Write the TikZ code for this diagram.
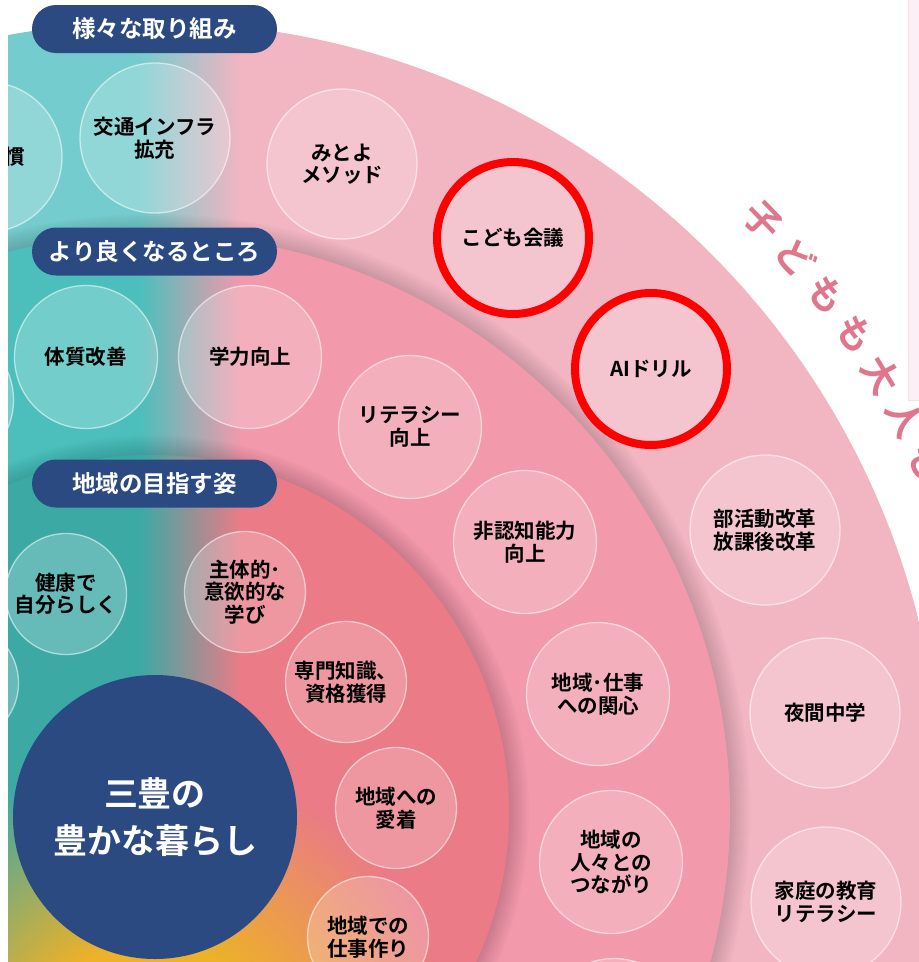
\documentclass[tikz,border=0pt]{standalone}
\usepackage{fontspec}
\setmainfont{Noto Sans CJK JP}[BoldFont={* Bold}]
\usetikzlibrary{fadings}
\definecolor{navy}{HTML}{2C4A82}
\definecolor{tealA}{HTML}{74CCCE}
\definecolor{tealB}{HTML}{4CBFBC}
\definecolor{tealC}{HTML}{3CA9A5}
\definecolor{pinkA}{HTML}{F2B5C2}
\definecolor{pinkB}{HTML}{F299AB}
\definecolor{pinkC}{HTML}{EA7B87}
\definecolor{midA}{HTML}{CCC2CA}
\definecolor{midB}{HTML}{B3A8B0}
\definecolor{midC}{HTML}{AC959A}
\definecolor{ylw}{HTML}{EDB12A}
\definecolor{arcpink}{HTML}{E0768B}
\definecolor{panelpink}{HTML}{FCF0F6}
\definecolor{paneledge}{HTML}{F6E0EA}
\definecolor{redmark}{HTML}{FF0000}
\pgfdeclareradialshading{yshade}{\pgfpointorigin}{color(0bp)=(white); color(10bp)=(white); color(25bp)=(black); color(50bp)=(black)}
\pgfdeclarefading{yfade}{\pgfuseshading{yshade}}
\newcommand\bubfont{\fontsize{20.5}{22.5}\selectfont\bfseries}
\newcommand\labfont{\fontsize{23.5}{26}\selectfont\bfseries}
\newcommand\ringfill[4]{%
  \begin{scope}
    \clip (C) circle[radius=#1];
    \fill[#2] (8,0) rectangle (141,962);
    \shade[left color=#2, middle color=#3, right color=#4] (140,0) rectangle (241,962);
    \fill[#4] (240,0) rectangle (919,962);
  \end{scope}}
\newcommand\ringshadow[1]{%
  \foreach \k in {1,...,10}{\fill[black, opacity=0.016] (C) circle[radius=#1+2*\k];}}
\begin{document}
\begin{tikzpicture}[x=1pt,y=-1pt,
  bubble/.style={circle, fill=white, fill opacity=0.22, draw=white, draw opacity=0.55,
    line width=1.3pt, text opacity=1, inner sep=0pt, align=center, font=\bubfont, text=black},
  bo/.style={bubble, minimum size=150pt},
  bm/.style={bubble, minimum size=143pt},
  bi/.style={bubble, minimum size=121pt},
  lab/.style={rectangle, rounded corners=24pt, fill=navy, text=white, minimum width=245pt,
    minimum height=48pt, inner sep=0pt, font=\labfont},
  arctext/.style={text=arcpink, font=\fontsize{37}{37}\selectfont\bfseries, inner sep=0pt},
  redring/.style={draw=redmark, line width=8pt}]
\useasboundingbox (0,0) rectangle (919,962);
\fill[white] (0,0) rectangle (919,962);
\fill[panelpink, draw=paneledge, line width=0.8pt] (908,-2) rectangle (921,400);
\coordinate (C) at (152,812);
\begin{scope}
\clip (8,0) rectangle (919,962);
% rings
\ringfill{790}{tealA}{midA}{pinkA}
\ringshadow{578}
\ringfill{578}{tealB}{midB}{pinkB}
\ringshadow{357}
\ringfill{357}{tealC}{midC}{pinkC}
% yellow glow near the bottom
\fill[ylw, path fading=yfade] (150,1060) circle[radius=300];
% outer ring bubbles
\node[bo] (o1) at (-13,157) {};
\node[bo] (o2) at (155,138) {交通インフラ\\拡充};
\node[bo] (o3) at (342,164) {みとよ\\メソッド};
\node[bo] (o4) at (513,238) {こども会議};
\node[bo] (o5) at (651,369) {AIドリル};
\node[bo] (o6) at (765,530) {部活動改革\\放課後改革};
\node[bo] (o7) at (825,713) {夜間中学};
\node[bo] (o8) at (826,902) {家庭の教育\\リテラシー};
% middle ring bubbles
\node[bm] (m0) at (-58,400) {};
\node[bm] (m1) at (86,357) {体質改善};
\node[bm] (m2) at (250,357) {学力向上};
\node[bm] (m3) at (410,427) {リテラシー\\向上};
\node[bm] (m4) at (525,542) {非認知能力\\向上};
\node[bm] (m5) at (598,694) {地域･仕事\\への関心};
\node[bm] (m6) at (611,862) {地域の\\人々との\\つながり};
\node[bm] (m7) at (614,1030) {};
% inner ring bubbles
\node[bi] (i0) at (-42,683) {};
\node[bi] (i1) at (66,594) {健康で\\自分らしく};
\node[bi] (i2) at (245,592) {主体的･\\意欲的な\\学び};
\node[bi] (i3) at (346,682) {専門知識、\\資格獲得};
\node[bi] (i4) at (396,808) {地域への\\愛着};
\node[bi] (i5) at (368,937) {地域での\\仕事作り};
% partial text of the clipped bubble
\node[font=\bubfont, inner sep=0pt] (o1t) at (15,157) {慣};
% red highlight rings
\draw[redring] (o4.center) circle[radius=76];
\draw[redring] (o5.center) circle[radius=76];
% centre
\node[circle, fill=navy, minimum size=284pt, inner sep=0pt, text=white, align=center,
  font=\fontsize{34}{47}\selectfont\bfseries] (core) at (155,817) {三豊の\\豊かな暮らし};
% labels
\node[lab] (l1) at (154.5,29) {様々な取り組み};
\node[lab] (l2) at (154.5,251.5) {より良くなるところ};
\node[lab] (l3) at (154.5,483.5) {地域の目指す姿};
\end{scope}
% arc text
\foreach \ch [count=\i from 0] in {子,ど,も,も,大,人,も}{
  \pgfmathsetmacro\ang{44.1-3.3*\i}
  \pgfmathsetmacro\rot{\ang-90}
  \node[arctext, rotate=\rot] (arc\i) at ({152+850*cos(\ang)},{812-850*sin(\ang)}) {\ch};
}
\end{tikzpicture}
\end{document}
